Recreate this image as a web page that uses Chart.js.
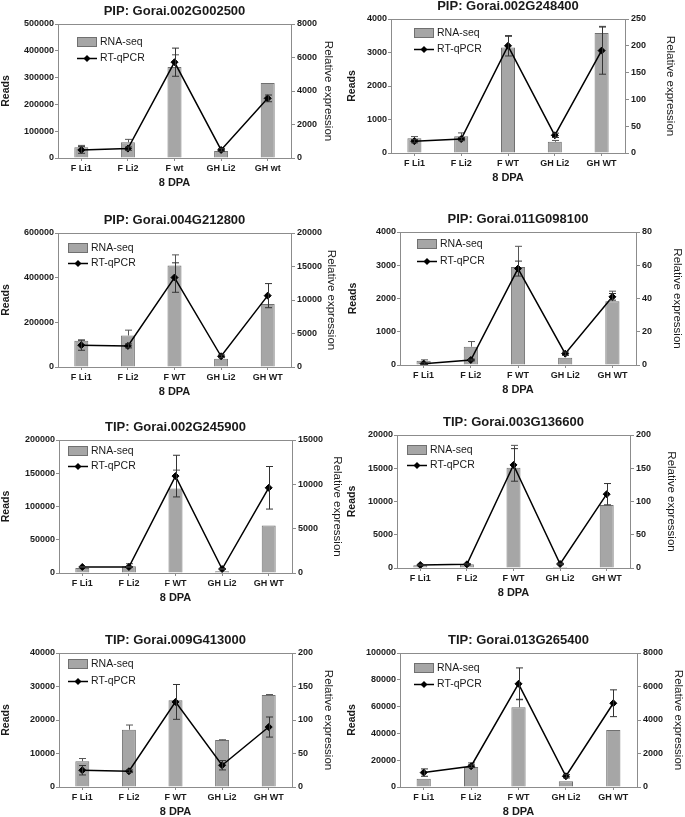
<!DOCTYPE html>
<html>
<head>
<meta charset="utf-8">
<script src="https://cdn.jsdelivr.net/npm/chart.js@4.4.1/dist/chart.umd.min.js"></script>
<style>
  html, body { margin: 0; padding: 0; background: #fff; overflow: hidden; }
  body { width: 685px; height: 817px; position: relative; }
  canvas { position: absolute; }
</style>
</head>
<body>
<script>
// --- DATA ---
const titles = [
    'PIP: Gorai.002G002500', 'PIP: Gorai.002G248400',
    'PIP: Gorai.004G212800', 'PIP: Gorai.011G098100',
    'TIP: Gorai.002G245900', 'TIP: Gorai.003G136600',
    'TIP: Gorai.009G413000', 'TIP: Gorai.013G265400'
];
const categoriesLower = ['F Li1', 'F Li2', 'F wt', 'GH Li2', 'GH wt'];
const categoriesUpper = ['F Li1', 'F Li2', 'F WT', 'GH Li2', 'GH WT'];

// left axis (Reads) and right axis (Relative expression) ranges
const readsMax  = [500000, 4000, 600000, 4000, 200000, 20000, 40000, 100000];
const readsStep = [100000, 1000, 200000, 1000, 50000, 5000, 10000, 20000];
const relMax    = [8000, 250, 20000, 80, 15000, 200, 200, 8000];
const relStep   = [2000, 50, 5000, 20, 5000, 50, 50, 2000];

// RNA-seq reads (bars) and upper error
const rna1 = [40000, 58500, 340000, 26000, 280000];
const rnaErr1 = [7000, 11000, 45000, 0, 0];
const rna2 = [440, 500, 3150, 335, 3580];
const rnaErr2 = [50, 100, 330, 40, 200];
const rna3 = [118000, 141000, 455000, 37500, 282000];
const rnaErr3 = [3000, 24000, 47000, 0, 0];
const rna4 = [125, 550, 2950, 220, 1920];
const rnaErr4 = [30, 155, 620, 0, 300];
const rna5 = [7500, 10000, 127000, 2500, 71400];
const rnaErr5 = [0, 4000, 27700, 0, 0];
const rna6 = [400, 550, 15080, 150, 9470];
const rnaErr6 = [0, 0, 3360, 0, 0];
const rna7 = [7700, 17100, 25900, 14000, 27500];
const rnaErr7 = [800, 1400, 0, 100, 100];
const rna8 = [6250, 15000, 59500, 4250, 42500];
const rnaErr8 = [0, 3000, 6000, 0, 0];

// RT-qPCR relative expression (line) and +/- error
const qpcr1 = [480, 560, 5720, 480, 3560];
const qpcrErr1 = [200, 100, 840, 80, 200];
const qpcr2 = [22, 26, 200, 33, 191];
const qpcrErr2 = [3, 3, 19, 4, 44];
const qpcr3 = [3250, 3150, 13350, 1600, 10650];
const qpcrErr3 = [750, 300, 2200, 200, 1800];
const qpcr4 = [0.8, 3.0, 58, 6.8, 41];
const qpcrErr4 = [0.5, 0.5, 4.5, 1, 2];
const qpcr5 = [680, 680, 10930, 450, 9610];
const qpcrErr5 = [50, 50, 2350, 50, 2400];
const qpcr6 = [4.5, 5.5, 155, 6, 111];
const qpcrErr6 = [1, 1, 24.5, 1, 16];
const qpcr7 = [25, 23.5, 127, 32.5, 89.5];
const qpcrErr7 = [7, 2, 26, 7, 15];
const qpcr8 = [860, 1240, 6160, 640, 5000];
const qpcrErr8 = [220, 80, 950, 100, 800];

const rnaSets = [rna1, rna2, rna3, rna4, rna5, rna6, rna7, rna8];
const rnaErrSets = [rnaErr1, rnaErr2, rnaErr3, rnaErr4, rnaErr5, rnaErr6, rnaErr7, rnaErr8];
const qpcrSets = [qpcr1, qpcr2, qpcr3, qpcr4, qpcr5, qpcr6, qpcr7, qpcr8];
const qpcrErrSets = [qpcrErr1, qpcrErr2, qpcrErr3, qpcrErr4, qpcrErr5, qpcrErr6, qpcrErr7, qpcrErr8];

// --- LAYOUT (page pixels) ---
// plot area: left, top, right, bottom
const plotBoxes = [
    [58, 24, 291, 158], [391, 19, 625, 153],
    [58, 233, 291, 367], [400, 232, 636, 365],
    [59, 440, 292, 573], [397, 435, 630, 568],
    [59, 653, 292, 787], [400, 653, 637, 787]
];
const readsGap = [52, 39, 52, 47, 53, 45, 53, 48];   // axis -> "Reads" centre
const relGap = [37, 45, 40, 41, 45, 41, 36, 41];     // axis -> "Relative expression" centre
const legendPos = [[19, 18, 34], [23, 14, 30], [10, 15, 30], [17, 12, 29],
                   [9, 11, 26], [10, 15, 30], [9, 11, 28], [14, 15, 31]];

const FONT = "'Liberation Sans', Arial, Helvetica, sans-serif";
const TEXT = '#1a1a1a';
const AXIS_GREY = '#8c8c8c';
const BAR_FILL = '#a6a6a6';
const BAR_EDGE = '#707070';
const TOP_H = 23;
const BOTTOM_H = 34;

// error bars: bars get an upper whisker, points get +/- whiskers
const errorBars = {
    id: 'errorBars',
    afterDatasetDraw(chart, args) {
        const ds = chart.data.datasets[args.index];
        if (!ds.errors) return;
        const scale = chart.scales[ds.yAxisID];
        const ctx = chart.ctx;
        const isBar = ds.type === 'bar';
        ctx.save();
        ctx.strokeStyle = isBar ? '#555' : '#333';
        ctx.lineWidth = 1;
        args.meta.data.forEach((el, j) => {
            const err = ds.errors[j];
            if (!err) return;
            const v = ds.data[j];
            const yTop = scale.getPixelForValue(v + err);
            const yBot = isBar ? scale.getPixelForValue(v) : scale.getPixelForValue(Math.max(0, v - err));
            const x = Math.round(el.x) + 0.5;
            ctx.beginPath();
            ctx.moveTo(x, yTop); ctx.lineTo(x, yBot);
            ctx.moveTo(x - 3.5, yTop); ctx.lineTo(x + 3.5, yTop);
            if (!isBar) { ctx.moveTo(x - 3.5, yBot); ctx.lineTo(x + 3.5, yBot); }
            ctx.stroke();
        });
        ctx.restore();
    }
};

// top edge of the frame
const frameTop = {
    id: 'frameTop',
    afterDraw(chart) {
        const { ctx, chartArea } = chart;
        ctx.save();
        ctx.strokeStyle = AXIS_GREY;
        ctx.lineWidth = 1;
        ctx.beginPath();
        ctx.moveTo(chartArea.left, Math.round(chartArea.top) + 0.5);
        ctx.lineTo(chartArea.right, Math.round(chartArea.top) + 0.5);
        ctx.stroke();
        ctx.restore();
    }
};

// legend inside the plot, top-left
const legendBox = {
    id: 'legendBox',
    afterDraw(chart, args, opts) {
        const { ctx, chartArea } = chart;
        const [lx, ly1, ly2] = opts.pos;
        const x = Math.round(chartArea.left + lx);
        const y1 = Math.round(chartArea.top + ly1);
        const y2 = Math.round(chartArea.top + ly2);
        const bars = chart.data.datasets[1];
        const line = chart.data.datasets[0];
        ctx.save();
        ctx.fillStyle = BAR_FILL;
        ctx.fillRect(x, y1 - 5, 20, 10);
        ctx.strokeStyle = BAR_EDGE;
        ctx.lineWidth = 1;
        ctx.strokeRect(x + 0.5, y1 - 4.5, 19, 9);
        ctx.strokeStyle = '#000';
        ctx.lineWidth = 1.5;
        ctx.beginPath();
        ctx.moveTo(x, y2 + 0.5); ctx.lineTo(x + 20, y2 + 0.5);
        ctx.stroke();
        ctx.fillStyle = '#000';
        ctx.beginPath();
        ctx.moveTo(x + 10, y2 + 0.5 - 3.5);
        ctx.lineTo(x + 13.5, y2 + 0.5);
        ctx.lineTo(x + 10, y2 + 0.5 + 3.5);
        ctx.lineTo(x + 6.5, y2 + 0.5);
        ctx.closePath();
        ctx.fill();
        ctx.fillStyle = TEXT;
        ctx.font = '10.5px ' + FONT;
        ctx.textBaseline = 'middle';
        ctx.fillText(bars.label, x + 23, y1);
        ctx.fillText(line.label, x + 23, y2);
        ctx.restore();
    }
};

function makePanel(i) {
    const [pl, pt, pr, pb] = plotBoxes[i];
    const leftW = readsGap[i] + 6;
    const rightW = relGap[i] + 7;
    const cw = (pr - pl) + leftW + rightW;
    const ch = (pb - pt) + TOP_H + BOTTOM_H;
    const canvas = document.createElement('canvas');
    canvas.width = cw;
    canvas.height = ch;
    canvas.style.left = (pl - leftW) + 'px';
    canvas.style.top = (pt - TOP_H) + 'px';
    canvas.style.width = cw + 'px';
    canvas.style.height = ch + 'px';
    document.body.appendChild(canvas);

    const tickFont = { family: FONT, size: 9, weight: 'bold' };
    new Chart(canvas.getContext('2d'), {
        type: 'bar',
        data: {
            labels: i === 0 ? categoriesLower : categoriesUpper,
            datasets: [{
                type: 'line',
                label: 'RT-qPCR',
                data: qpcrSets[i],
                errors: qpcrErrSets[i],
                yAxisID: 'yR',
                borderColor: '#000',
                borderWidth: 1.5,
                pointStyle: 'rectRot',
                pointRadius: 3.5,
                pointBackgroundColor: '#000',
                pointBorderColor: '#000',
                pointBorderWidth: 1,
                tension: 0,
                order: 0
            }, {
                type: 'bar',
                label: 'RNA-seq',
                data: rnaSets[i],
                errors: rnaErrSets[i],
                yAxisID: 'yL',
                backgroundColor: BAR_FILL,
                borderColor: BAR_EDGE,
                borderWidth: 1,
                barPercentage: 0.3,
                categoryPercentage: 1,
                order: 1
            }]
        },
        options: {
            responsive: false,
            animation: false,
            devicePixelRatio: 1,
            layout: { padding: 0 },
            plugins: {
                legend: { display: false },
                tooltip: { enabled: false },
                title: {
                    display: true,
                    text: titles[i],
                    fullSize: false,
                    color: TEXT,
                    font: { family: FONT, size: 13, weight: 'bold' },
                    padding: { top: 2.2, bottom: 5.2 }
                },
                legendBox: { pos: legendPos[i] }
            },
            scales: {
                x: {
                    grid: { display: true, drawOnChartArea: false, drawTicks: true, tickLength: 3, color: AXIS_GREY, offset: false },
                    border: { display: true, color: AXIS_GREY },
                    ticks: { color: TEXT, font: tickFont, padding: 2, maxRotation: 0 },
                    title: { display: true, text: '8 DPA', color: TEXT, font: { family: FONT, size: 11, weight: 'bold' }, padding: { top: 0, bottom: 2.4 } },
                    afterFit: s => { s.height = BOTTOM_H; }
                },
                yL: {
                    position: 'left',
                    min: 0,
                    max: readsMax[i],
                    grid: { display: true, drawOnChartArea: false, drawTicks: true, tickLength: 3, color: AXIS_GREY },
                    border: { display: true, color: AXIS_GREY },
                    ticks: { stepSize: readsStep[i], color: TEXT, font: tickFont, padding: 1, callback: v => v },
                    title: { display: true, text: 'Reads', color: TEXT, font: { family: FONT, size: 10.5, weight: 'bold' }, padding: { top: 0, bottom: 0 } },
                    afterFit: s => { s.width = leftW; }
                },
                yR: {
                    position: 'right',
                    min: 0,
                    max: relMax[i],
                    grid: { display: true, drawOnChartArea: false, drawTicks: true, tickLength: 4, color: AXIS_GREY },
                    border: { display: true, color: AXIS_GREY },
                    ticks: { stepSize: relStep[i], color: TEXT, font: tickFont, padding: 2, callback: v => v },
                    title: { display: true, text: 'Relative expression', color: TEXT, font: { family: FONT, size: 11.5 }, padding: { top: 0.1, bottom: 0 } },
                    afterFit: s => { s.width = rightW; }
                }
            }
        },
        plugins: [errorBars, frameTop, legendBox]
    });
}

for (let i = 0; i < titles.length; i++) makePanel(i);
</script>
</body>
</html>
